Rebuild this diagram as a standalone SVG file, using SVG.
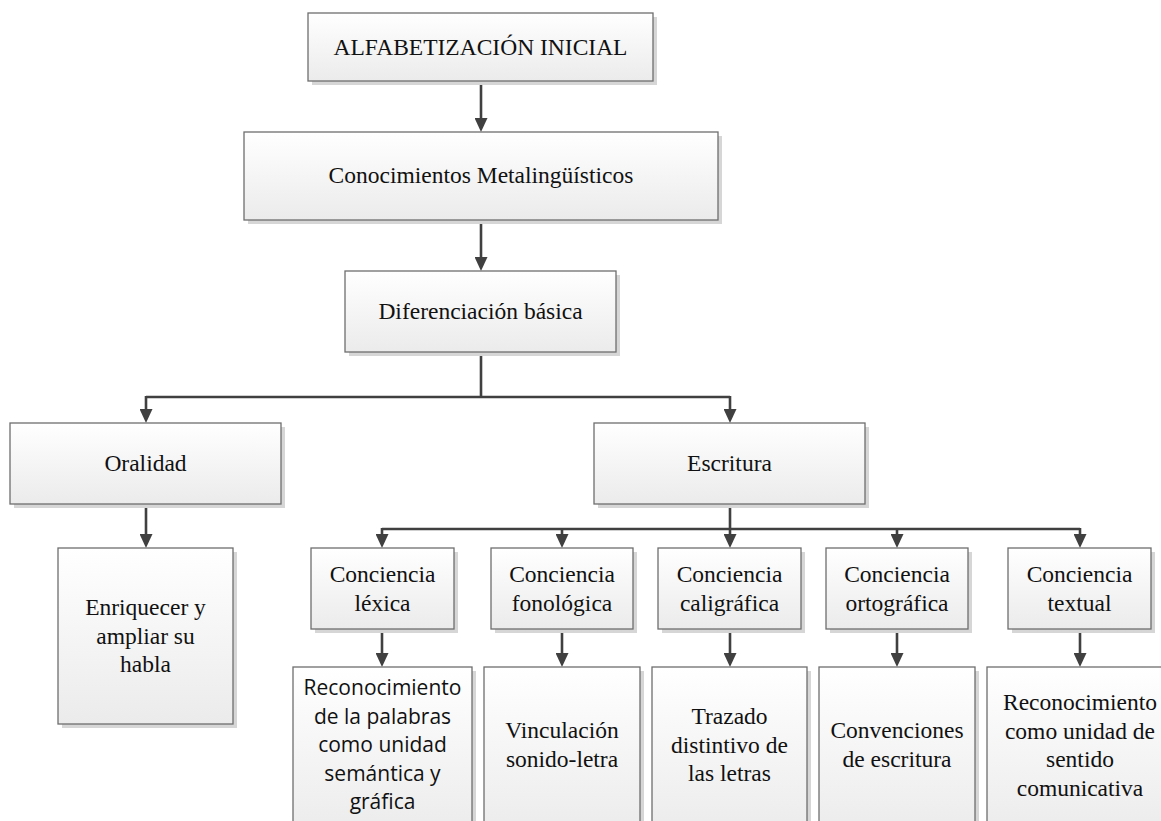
<svg xmlns="http://www.w3.org/2000/svg" width="1161" height="821" viewBox="0 0 1161 821">
  <defs>
    <linearGradient id="boxFill" x1="0" y1="0" x2="0" y2="1">
      <stop offset="0" stop-color="#ffffff"/>
      <stop offset="1" stop-color="#ebebeb"/>
    </linearGradient>
    <marker id="arrow" markerUnits="userSpaceOnUse" markerWidth="14" markerHeight="13" refX="1" refY="6.5" orient="auto">
      <path d="M0,0 L14,6.5 L0,13 z" fill="#404040"/>
    </marker>
  </defs>
  <style>
    .shadow { fill: #d6d6d6; }
    .box { fill: url(#boxFill); stroke: #6e6e6e; stroke-width: 1.3; }
    .serif { font-family: 'Liberation Serif', 'DejaVu Serif', serif; font-size: 23.5px; fill: #111; text-anchor: middle; }
    .sans { font-family: 'Open Sans', 'Liberation Sans', sans-serif; font-size: 21px; fill: #111; text-anchor: middle; }
    .link { fill: none; stroke: #404040; stroke-width: 2.6; }
    .arrowed { marker-end: url(#arrow); }
  </style>
  <rect width="1161" height="821" fill="#ffffff"/>

  <g id="connectors">
    <path class="link arrowed" d="M481,81 V119"/>
    <path class="link arrowed" d="M481,220 V258"/>
    <path class="link" d="M481,352 V397 M146,397 H730"/>
    <path class="link arrowed" d="M146,396 V410"/>
    <path class="link arrowed" d="M730,396 V410"/>
    <path class="link" d="M730,504 V529 M382,529 H1080"/>
    <path class="link arrowed" d="M382,528 V535"/>
    <path class="link arrowed" d="M562,528 V535"/>
    <path class="link arrowed" d="M730,528 V535"/>
    <path class="link arrowed" d="M897,528 V535"/>
    <path class="link arrowed" d="M1080,528 V535"/>
    <path class="link arrowed" d="M146,504 V535"/>
    <path class="link arrowed" d="M382,629 V654"/>
    <path class="link arrowed" d="M562,629 V654"/>
    <path class="link arrowed" d="M730,629 V654"/>
    <path class="link arrowed" d="M897,629 V654"/>
    <path class="link arrowed" d="M1080,629 V654"/>
  </g>

  <g id="alfabetizacion">
    <rect class="shadow" x="312" y="17" width="345" height="68"/>
    <rect class="box" x="308" y="13" width="345" height="68"/>
    <text class="serif" x="480.5" y="55" font-family="Liberation Serif, serif">ALFABETIZACIÓN INICIAL</text>
  </g>

  <g id="metalinguisticos">
    <rect class="shadow" x="248" y="136" width="474" height="88"/>
    <rect class="box" x="244" y="132" width="474" height="88"/>
    <text class="serif" x="481" y="183">Conocimientos Metalingüísticos</text>
  </g>

  <g id="diferenciacion">
    <rect class="shadow" x="349" y="275" width="271" height="81"/>
    <rect class="box" x="345" y="271" width="271" height="81"/>
    <text class="serif" x="480.5" y="319">Diferenciación básica</text>
  </g>

  <g id="oralidad">
    <rect class="shadow" x="14" y="427" width="271" height="81"/>
    <rect class="box" x="10" y="423" width="271" height="81"/>
    <text class="serif" x="145.5" y="471">Oralidad</text>
  </g>

  <g id="escritura">
    <rect class="shadow" x="598" y="427" width="271" height="81"/>
    <rect class="box" x="594" y="423" width="271" height="81"/>
    <text class="serif" x="729.5" y="471">Escritura</text>
  </g>

  <g id="enriquecer">
    <rect class="shadow" x="62" y="552" width="175" height="176"/>
    <rect class="box" x="58" y="548" width="175" height="176"/>
    <text class="serif" x="145.5" y="615">Enriquecer y<tspan x="145.5" dy="28.5">ampliar su</tspan><tspan x="145.5" dy="28.5">habla</tspan></text>
  </g>

  <g id="c-lexica">
    <rect class="shadow" x="315" y="552" width="143" height="81"/>
    <rect class="box" x="311" y="548" width="143" height="81"/>
    <text class="serif" x="382.5" y="582">Conciencia<tspan x="382.5" dy="29">léxica</tspan></text>
  </g>

  <g id="c-fonologica">
    <rect class="shadow" x="495" y="552" width="142" height="81"/>
    <rect class="box" x="491" y="548" width="142" height="81"/>
    <text class="serif" x="562" y="582">Conciencia<tspan x="562" dy="29">fonológica</tspan></text>
  </g>

  <g id="c-caligrafica">
    <rect class="shadow" x="662" y="552" width="143" height="81"/>
    <rect class="box" x="658" y="548" width="143" height="81"/>
    <text class="serif" x="729.5" y="582">Conciencia<tspan x="729.5" dy="29">caligráfica</tspan></text>
  </g>

  <g id="c-ortografica">
    <rect class="shadow" x="830" y="552" width="142" height="81"/>
    <rect class="box" x="826" y="548" width="142" height="81"/>
    <text class="serif" x="897" y="582">Conciencia<tspan x="897" dy="29">ortográfica</tspan></text>
  </g>

  <g id="c-textual">
    <rect class="shadow" x="1012" y="552" width="143" height="81"/>
    <rect class="box" x="1008" y="548" width="143" height="81"/>
    <text class="serif" x="1079.5" y="582">Conciencia<tspan x="1079.5" dy="29">textual</tspan></text>
  </g>

  <g id="d-lexica">
    <rect class="shadow" x="297" y="671" width="179" height="170"/>
    <rect class="box" x="293" y="667" width="179" height="170"/>
    <text class="sans" x="382.5" y="695">Reconocimiento<tspan x="382.5" dy="28.6">de la palabras</tspan><tspan x="382.5" dy="28.6">como unidad</tspan><tspan x="382.5" dy="28.6">semántica y</tspan><tspan x="382.5" dy="28.6">gráfica</tspan></text>
  </g>

  <g id="d-fonologica">
    <rect class="shadow" x="488" y="671" width="156" height="170"/>
    <rect class="box" x="484" y="667" width="156" height="170"/>
    <text class="serif" x="562" y="738">Vinculación<tspan x="562" dy="29">sonido-letra</tspan></text>
  </g>

  <g id="d-caligrafica">
    <rect class="shadow" x="656" y="671" width="155" height="170"/>
    <rect class="box" x="652" y="667" width="155" height="170"/>
    <text class="serif" x="729.5" y="724">Trazado<tspan x="729.5" dy="28.5">distintivo de</tspan><tspan x="729.5" dy="28.5">las letras</tspan></text>
  </g>

  <g id="d-ortografica">
    <rect class="shadow" x="823" y="671" width="156" height="170"/>
    <rect class="box" x="819" y="667" width="156" height="170"/>
    <text class="serif" x="897" y="738">Convenciones<tspan x="897" dy="29">de escritura</tspan></text>
  </g>

  <g id="d-textual">
    <rect class="shadow" x="991" y="671" width="186" height="170"/>
    <rect class="box" x="987" y="667" width="186" height="170"/>
    <text class="serif" x="1080" y="710">Reconocimiento<tspan x="1080" dy="28.5">como unidad de</tspan><tspan x="1080" dy="28.5">sentido</tspan><tspan x="1080" dy="28.5">comunicativa</tspan></text>
  </g>
</svg>
